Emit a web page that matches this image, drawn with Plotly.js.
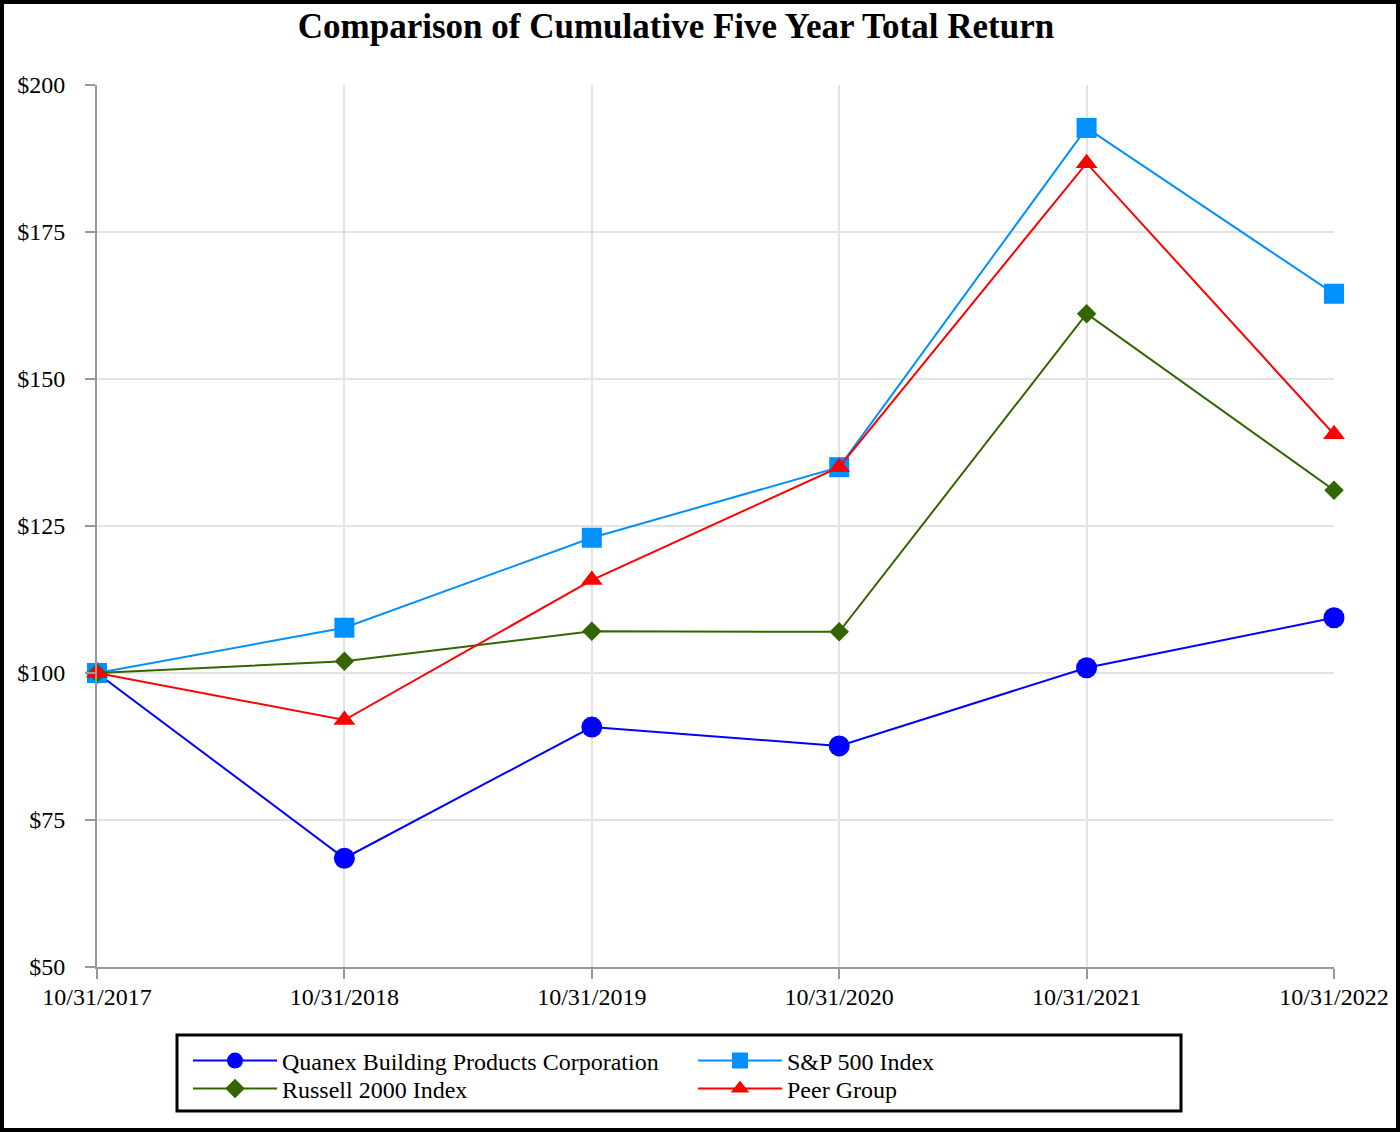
<!DOCTYPE html>
<html><head><meta charset="utf-8">
<script src="https://cdn.plot.ly/plotly-3.0.1.min.js"></script>
<style>
html,body{margin:0;padding:0;background:#fff;}
#wrap{position:relative;width:1400px;height:1132px;}
#chart{width:1400px;height:1132px;}
#frame{position:absolute;left:0;top:0;width:1400px;height:1132px;box-sizing:border-box;border:4px solid #000;pointer-events:none;}
</style></head>
<body>
<div id="wrap"><div id="chart"></div><div id="frame"></div></div>
<script>
const dates = ["10/31/2017","10/31/2018","10/31/2019","10/31/2020","10/31/2021","10/31/2022"];
const quanex = [100, 68.5, 90.8, 87.6, 100.9, 109.4];
const sp500 = [100, 107.7, 123.0, 135.0, 192.7, 164.5];
const russell = [100, 102.0, 107.1, 107.0, 161.1, 131.1];
const peer = [100, 92.0, 115.8, 135.0, 186.7, 140.6];
const names = ["Quanex Building Products Corporation","S&P 500 Index","Russell 2000 Index","Peer Group"];

const font = {family:"Liberation Serif, Times New Roman, serif", size:24, color:"#000"};
function tr(y, name, color, symbol, size, leg){
  return {x:dates, y:y, name:name, type:"scatter", mode:"lines+markers", cliponaxis:false, legend:leg,
    line:{color:color, width:2}, marker:{color:color, symbol:symbol, size:size}};
}
const data = [
  tr(quanex, names[0], "#0000FF", "circle", 21, "legend"),
  tr(sp500, names[1], "#0090FF", "square", 20, "legend"),
  tr(russell, names[2], "#336600", "diamond", 15, "legend2"),
  tr(peer, names[3], "#FF0000", "triangle-up", 19, "legend2")
];
const legBase = {orientation:"h", xanchor:"left", yanchor:"middle", font:font, itemwidth:84,
  entrywidth:406, entrywidthmode:"pixels", bgcolor:"rgba(0,0,0,0)", borderwidth:0, tracegroupgap:0};
const layout = {
  width:1400, height:1132,
  margin:{l:97, r:66, t:85, b:165},
  paper_bgcolor:"#fff", plot_bgcolor:"#fff",
  font:font,
  showlegend:true,
  title:{text:"<b>Comparison of Cumulative Five Year Total Return</b>", x:676/1400, xanchor:"center", xref:"container", y:1-26/1132, yanchor:"middle", yref:"container",
    font:{family:"Liberation Serif, Times New Roman, serif", size:35, color:"#000"}},
  xaxis:{type:"category", range:[0,5], showgrid:true, gridcolor:"#e3e3e3", gridwidth:2,
    showline:true, linecolor:"#999", linewidth:2, ticks:"outside", ticklen:10, tickcolor:"#999", tickwidth:2,
    ticklabelstandoff:-3, tickfont:font, zeroline:false, fixedrange:true},
  yaxis:{range:[50,200], dtick:25, tick0:50, tickprefix:"$", showgrid:true, gridcolor:"#e3e3e3", gridwidth:2,
    showline:true, linecolor:"#999", linewidth:2, ticks:"outside", ticklen:10, tickcolor:"#999", tickwidth:2,
    ticklabelstandoff:15, tickfont:font, zeroline:false, fixedrange:true},
  legend:Object.assign({}, legBase, {x:(188-97)/1237, y:(967-1061)/882}),
  legend2:Object.assign({}, legBase, {x:(188-97)/1237, y:(967-1089)/882}),
  shapes:[{type:"rect", xref:"paper", yref:"paper", x0:(177-97)/1237, x1:(1181-97)/1237, y0:(967-1035)/882, y1:(967-1111)/882,
    line:{color:"#000", width:3}, fillcolor:"rgba(0,0,0,0)"}]
};
Plotly.newPlot("chart", data, layout, {displayModeBar:false, staticPlot:true});
</script>
</body></html>
